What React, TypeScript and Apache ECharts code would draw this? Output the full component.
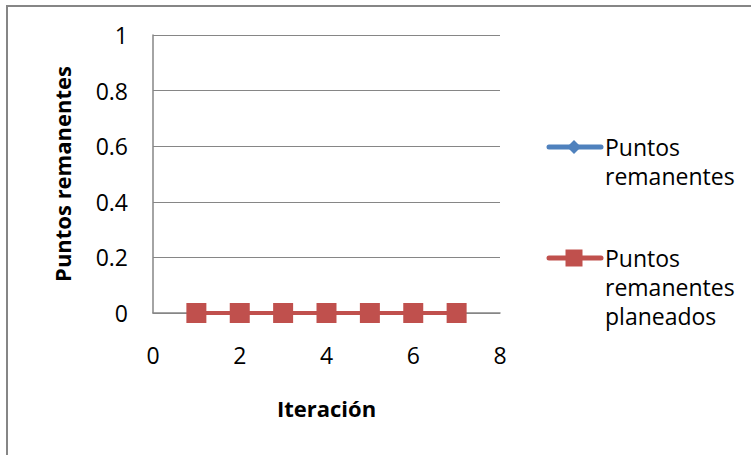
import React, { useEffect, useRef } from "react";
import * as echarts from "echarts";

const iterations = [1, 2, 3, 4, 5, 6, 7];
const remainingPoints: (number | null)[] = [];
const plannedRemainingPoints = [0, 0, 0, 0, 0, 0, 0];
const seriesNames = ["Puntos remanentes", "Puntos remanentes planeados"];
const legendLines = [
  ["Puntos", "remanentes"],
  ["Puntos", "remanentes", "planeados"],
];
const xAxisName = "Iteración";
const yAxisName = "Puntos remanentes";

const BLUE = "#4F81BD";
const RED = "#C0504D";
const GRAY = "#868686";
const FONT = "Open Sans";

export default function App() {
  const ref = useRef<HTMLDivElement>(null);
  useEffect(() => {
    if (!ref.current) return;
    const chart = echarts.init(ref.current, null, { renderer: "svg" });
    const pairs = (vals: (number | null)[]) => vals.map((v, i) => [iterations[i], v]);
    const legendText = (lines: string[], x: number, y0: number, step: number) =>
      lines.map((t, i) => ({
        type: "text",
        x,
        y: y0 + i * step,
        style: {
          text: t,
          fontFamily: FONT,
          fontSize: 23,
          fill: "#000",
          verticalAlign: "middle",
          align: "left",
        },
      }));
    chart.setOption({
      animation: false,
      backgroundColor: "#ffffff",
      grid: { left: 153, right: 251, top: 35, bottom: 142, containLabel: false },
      xAxis: {
        type: "value",
        min: 0,
        max: 8,
        interval: 2,
        name: xAxisName,
        nameLocation: "middle",
        nameGap: 84,
        nameTextStyle: { fontFamily: FONT, fontSize: 22, fontWeight: "bold", color: "#000" },
        axisLine: { show: true, onZero: false, lineStyle: { color: GRAY, width: 1.5 } },
        axisTick: { show: false },
        splitLine: { show: false },
        axisLabel: { fontFamily: FONT, fontSize: 23, color: "#000", margin: 30 },
      },
      yAxis: {
        type: "value",
        min: 0,
        max: 1,
        interval: 0.2,
        name: yAxisName,
        nameLocation: "middle",
        nameGap: 80,
        nameRotate: 90,
        nameTextStyle: { fontFamily: FONT, fontSize: 22, fontWeight: "bold", color: "#000" },
        axisLine: { show: true, lineStyle: { color: GRAY, width: 1.5 } },
        axisTick: { show: false },
        splitLine: { show: true, lineStyle: { color: GRAY, width: 1 } },
        axisLabel: {
          fontFamily: FONT,
          fontSize: 23,
          color: "#000",
          margin: 25,
          formatter: (v: number) => String(Math.round(v * 10) / 10),
        },
      },
      legend: { show: false },
      series: [
        {
          name: seriesNames[0],
          type: "line",
          data: pairs(remainingPoints),
          symbol: "diamond",
          symbolSize: 13,
          lineStyle: { color: BLUE, width: 4 },
          itemStyle: { color: BLUE },
          z: 2,
        },
        {
          name: seriesNames[1],
          type: "line",
          data: pairs(plannedRemainingPoints),
          symbol: "rect",
          symbolSize: 20,
          lineStyle: { color: RED, width: 4 },
          itemStyle: { color: RED },
          z: 3,
        },
      ],
      graphic: [
        {
          type: "rect",
          shape: { x: 7, y: 6, width: 780, height: 480 },
          style: { fill: "none", stroke: GRAY, lineWidth: 2 },
          silent: true,
          z: -1,
        },
        {
          type: "line",
          shape: { x1: 549, y1: 147, x2: 601, y2: 147 },
          style: { stroke: BLUE, lineWidth: 5, lineCap: "round" },
        },
        {
          type: "polygon",
          shape: { points: [[574, 140], [581, 147], [574, 154], [567, 147]] },
          style: { fill: BLUE },
        },
        ...legendText(legendLines[0], 605, 146.5, 29.5),
        {
          type: "line",
          shape: { x1: 549, y1: 258, x2: 601, y2: 258 },
          style: { stroke: RED, lineWidth: 5, lineCap: "round" },
        },
        {
          type: "rect",
          shape: { x: 565.5, y: 249.5, width: 17, height: 17 },
          style: { fill: RED },
        },
        ...legendText(legendLines[1], 605, 258, 29),
      ],
    });
    return () => chart.dispose();
  }, []);
  return (
    <div
      ref={ref}
      style={{ position: "fixed", left: 0, top: 0, width: 751, height: 455, background: "#fff" }}
    />
  );
}
